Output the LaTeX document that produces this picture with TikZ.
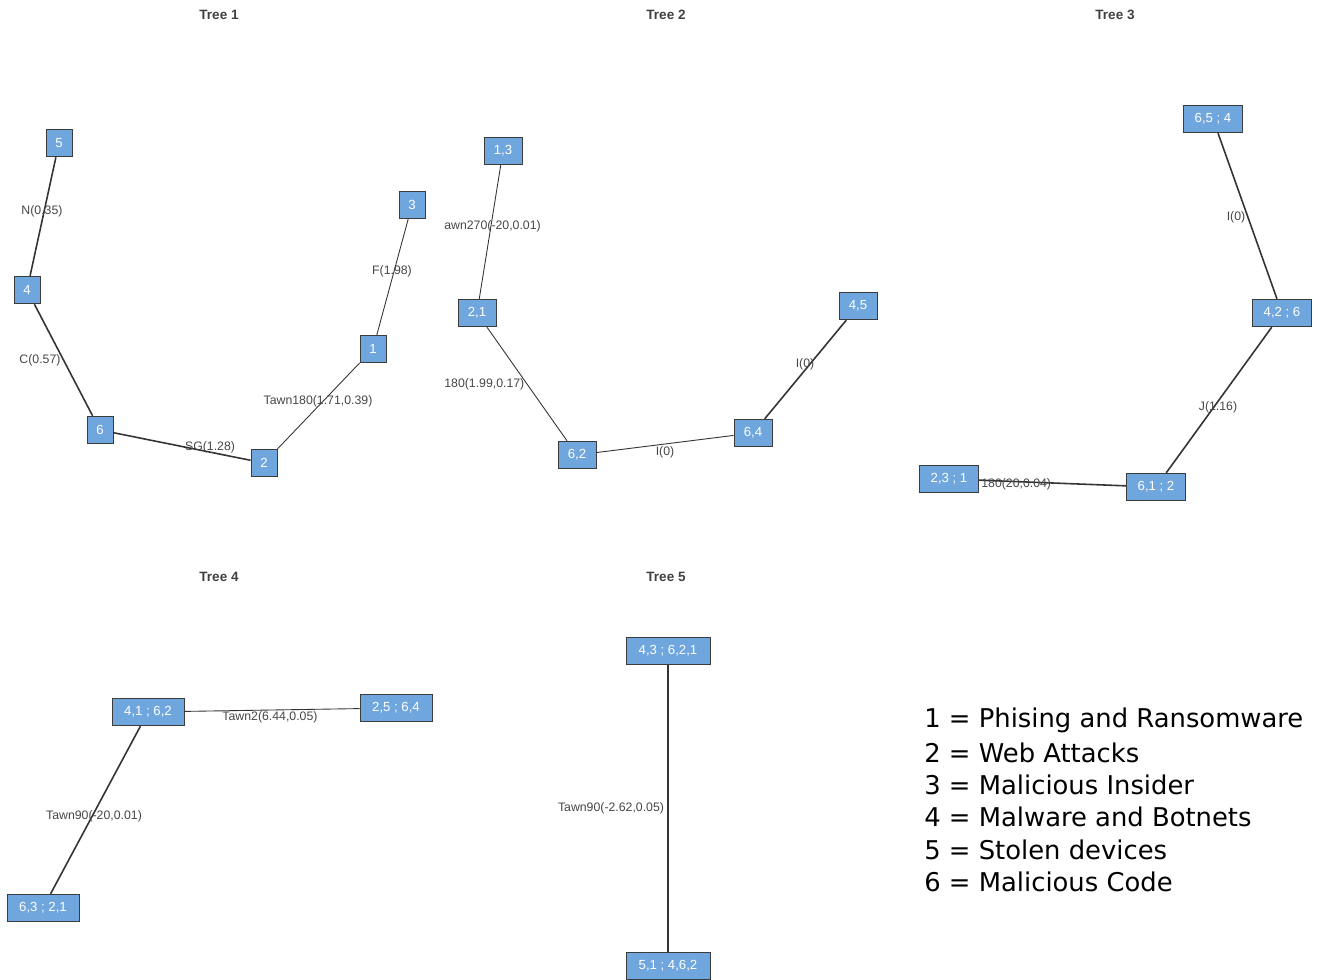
\documentclass[tikz,border=0pt]{standalone}
\usepackage{fontspec}
\setmainfont{Liberation Sans}
\newfontfamily\legfont{DejaVu Sans}
\usetikzlibrary{positioning}

\definecolor{boxblue}{RGB}{112,166,222}
\definecolor{boxedge}{RGB}{60,60,60}
\definecolor{lblgray}{RGB}{70,70,70}

\begin{document}
\begin{tikzpicture}[
      x=0.02cm, y=-0.02cm,
      vtx/.style={
        draw=boxedge,
        fill=boxblue,
        text=white,
        line width=0.5pt,
        inner sep=0pt,
        minimum width=0.52cm,
        minimum height=0.55cm,
        font=\fontsize{7.5}{8}\selectfont
      },
      wide/.style={minimum width=0.76cm},
      wider/.style={minimum width=1.18cm},
      widest/.style={minimum width=1.44cm},
      widest2/.style={minimum width=1.68cm},
      lbl/.style={
        text=lblgray,
        inner sep=0pt,
        font=\fontsize{7}{8}\selectfont
      },
      ttl/.style={
        text=black!75,
        font=\fontsize{7.7}{9}\selectfont\bfseries
      },
      con/.style={draw=black!80, line width=0.5pt},
      heavy/.style={draw=black!80, line width=0.9pt}
    ]
    \useasboundingbox (0,0) rectangle (1320,980);

    %% Titles
    \node[ttl] (ttl-1) at (219,15) {Tree 1};
    \node[ttl] (ttl-2) at (666,15) {Tree 2};
    \node[ttl] (ttl-3) at (1115,15) {Tree 3};
    \node[ttl] (ttl-4) at (219,577) {Tree 4};
    \node[ttl] (ttl-5) at (666,577) {Tree 5};

    %% Tree 1
    \node[vtx] (t1-5) at (59,143) {5};
    \node[vtx] (t1-3) at (412,205) {3};
    \node[vtx] (t1-4) at (27,290) {4};
    \node[vtx] (t1-1) at (373,349) {1};
    \node[vtx] (t1-6) at (100,430) {6};
    \node[vtx] (t1-2) at (264,463) {2};
    \draw[heavy] (t1-5) -- (t1-4);
    \draw[heavy] (t1-4) -- (t1-6);
    \draw[heavy] (t1-6) -- (t1-2);
    \draw[con] (t1-2) -- (t1-1);
    \draw[con] (t1-1) -- (t1-3);
    \node[lbl] (t1-l1) at (42,211) {N(0.35)};
    \node[lbl] (t1-l2) at (40,360) {C(0.57)};
    \node[lbl] (t1-l3) at (210,447) {SG(1.28)};
    \node[lbl] (t1-l4) at (318,401) {Tawn180(1.71,0.39)};
    \node[lbl] (t1-l5) at (392,271) {F(1.98)};

    %% Tree 2
    \node[vtx,wide] (t2-13) at (503,151) {1,3};
    \node[vtx,wide] (t2-21) at (477,313) {2,1};
    \node[vtx,wide] (t2-62) at (577,455) {6,2};
    \node[vtx,wide] (t2-64) at (753,433) {6,4};
    \node[vtx,wide] (t2-45) at (858,306) {4,5};
    \draw[con] (t2-13) -- (t2-21);
    \draw[con] (t2-21) -- (t2-62);
    \draw[con] (t2-62) -- (t2-64);
    \draw[heavy] (t2-64) -- (t2-45);
    \node[lbl,anchor=west] (t2-l1) at (444,226) {awn270(-20,0.01)};
    \node[lbl,anchor=west] (t2-l2) at (444,384) {180(1.99,0.17)};
    \node[lbl] (t2-l3) at (665,452) {I(0)};
    \node[lbl] (t2-l4) at (805,364) {I(0)};

    %% Tree 3
    \node[vtx,wider] (t3-654) at (1213,119) {6,5 ; 4};
    \node[vtx,wider] (t3-426) at (1282,313) {4,2 ; 6};
    \node[vtx,wider] (t3-612) at (1156,487) {6,1 ; 2};
    \node[vtx,wider] (t3-231) at (949,479) {2,3 ; 1};
    \draw[heavy] (t3-654) -- (t3-426);
    \draw[heavy] (t3-426) -- (t3-612);
    \draw[heavy] (t3-231) -- (t3-612);
    \node[lbl] (t3-l1) at (1236,217) {I(0)};
    \node[lbl] (t3-l2) at (1218,407) {J(1.16)};
    \node[lbl,anchor=west] (t3-l3) at (981,484) {180(20,0.04)};

    %% Tree 4
    \node[vtx,widest] (t4-4162) at (148,712) {4,1 ; 6,2};
    \node[vtx,widest] (t4-2564) at (396,708) {2,5 ; 6,4};
    \node[vtx,widest] (t4-6321) at (43,908) {6,3 ; 2,1};
    \draw[con] (t4-4162) -- (t4-2564);
    \draw[heavy] (t4-4162) -- (t4-6321);
    \node[lbl] (t4-l1) at (270,717) {Tawn2(6.44,0.05)};
    \node[lbl] (t4-l2) at (94,816) {Tawn90(-20,0.01)};

    %% Tree 5
    \node[vtx,widest2] (t5-top) at (668,651) {4,3 ; 6,2,1};
    \node[vtx,widest2] (t5-bot) at (668,966) {5,1 ; 4,6,2};
    \draw[draw=black!80, line width=1.2pt] (t5-top) -- (t5-bot);
    \node[lbl] (t5-l1) at (611,808) {Tawn90(-2.62,0.05)};

    %% Legend
    \foreach \i/\txt in {1/Phising and Ransomware, 2/Web Attacks,
        3/Malicious Insider, 4/Malware and Botnets,
        5/Stolen devices, 6/Malicious Code}{
      \node[anchor=west, inner sep=0pt, font=\legfont\fontsize{14.7}{18}\selectfont]
        (leg-\i) at (924,{720+32.4*(\i-1)}) {\i\ = \txt};
    }
  \end{tikzpicture}
\end{document}
